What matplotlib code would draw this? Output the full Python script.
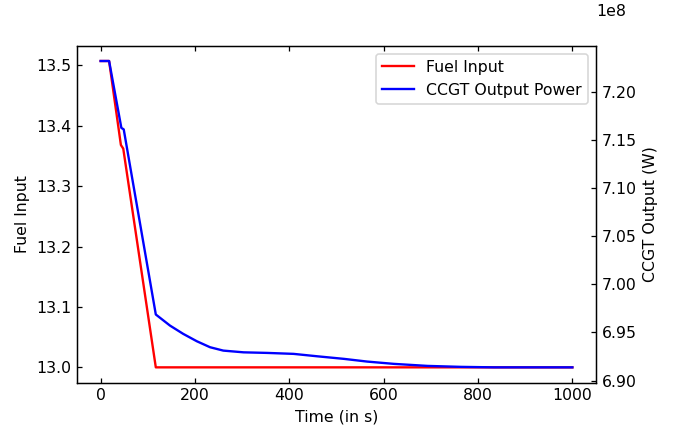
import matplotlib
matplotlib.use("Agg")
import matplotlib.pyplot as plt

# values
time = [0, 18, 43, 48, 117, 1000]
fuel_input = [13.507, 13.507, 13.368, 13.362, 13.0, 13.0]

time_ccgt = [0, 18, 44, 49, 117, 147, 175, 204, 232, 260, 303, 353, 409, 459,
             516, 565, 622, 693, 764, 834, 1000]
ccgt_output = [7.232e8, 7.232e8, 7.1625e8, 7.161e8, 6.9687e8, 6.9572e8, 6.9486e8,
               6.9409e8, 6.9347e8, 6.9312e8, 6.9294e8, 6.9288e8, 6.9278e8, 6.9253e8,
               6.9226e8, 6.9198e8, 6.9174e8, 6.9153e8, 6.9143e8, 6.9138e8, 6.9138e8]

fuel_ticks = [13.0, 13.1, 13.2, 13.3, 13.4, 13.5]
time_ticks = [0, 200, 400, 600, 800, 1000]

plt.rcParams['xtick.direction'] = 'in'
plt.rcParams['ytick.direction'] = 'in'
plt.rcParams['xtick.top'] = True

dpi = 113
fig, ax1 = plt.subplots(figsize=(678 / dpi, 429 / dpi), dpi=dpi)
fig.subplots_adjust(left=0.1136, right=0.879, bottom=0.108, top=0.8935)

l1, = ax1.plot(time, fuel_input, color='red', lw=1.5, label='Fuel Input')
ax1.set_xlabel('Time (in s)')
ax1.set_ylabel('Fuel Input')
ax1.set_xticks(time_ticks)
ax1.set_yticks(fuel_ticks)

ax2 = ax1.twinx()
l2, = ax2.plot(time_ccgt, ccgt_output, color='blue', lw=1.5, label='CCGT Output Power')
ax2.set_ylabel('CCGT Output (W)')

# offset text sits higher and left-aligned in the reference
ax2.yaxis.get_offset_text().set_visible(False)
ax2.text(1.0, 1.10, '1e8', ha='left', va='center', transform=ax2.transAxes)

ax2.legend(handles=[l1, l2], loc='upper right')

fig.savefig('out.png', dpi=dpi)
